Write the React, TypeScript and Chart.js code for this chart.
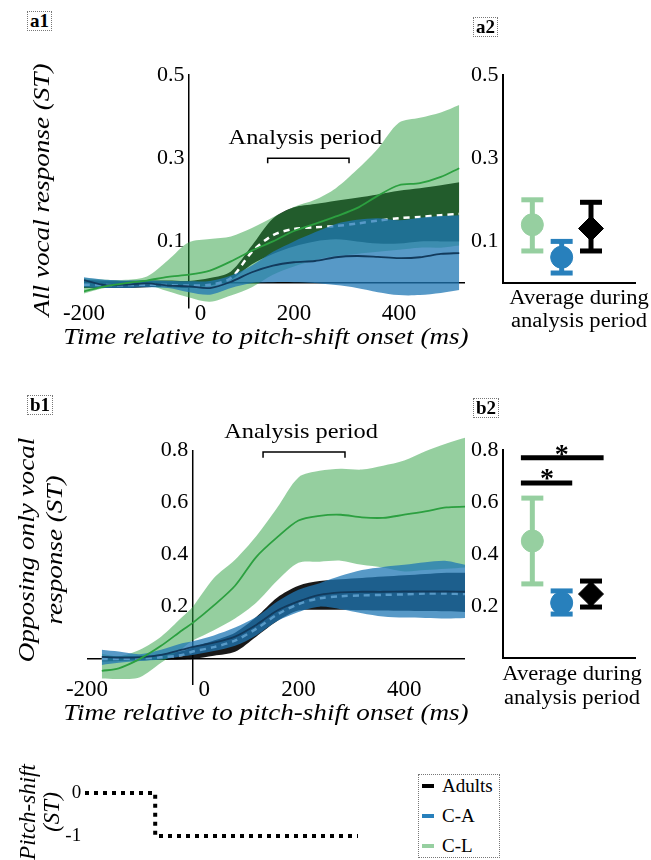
import React, { useEffect, useRef } from 'react';
import { Chart, registerables } from 'chart.js';

Chart.register(...registerables);

const SERIF = '"Liberation Serif", "Times New Roman", Times, serif';
Chart.defaults.font.family = SERIF;
Chart.defaults.color = '#000';

// ---------------- time axes (ms) ----------------
const timeA = [-200, -160, -120, -80, -40, 0, 40, 80, 120, 160, 200, 240, 280, 320, 360, 400, 440, 480, 515];
const timeB = [-172, -140, -100, -60, -20, 0, 40, 80, 120, 160, 200, 240, 280, 320, 360, 400, 440, 480, 515];
const timeTicks = [-200, 0, 200, 400];

// ---------------- a1: all vocal responses (ST) ----------------
const a1ClLo = [-0.025, -0.012, -0.006, -0.004, -0.02, -0.035, -0.045, -0.03, -0.01, 0.02, 0.04, 0.055, 0.065, 0.07, 0.075, 0.08, 0.085, 0.085, 0.09];
const a1ClMean = [-0.02, -0.008, 0.0, 0.006, 0.015, 0.02, 0.03, 0.052, 0.078, 0.1, 0.125, 0.142, 0.16, 0.18, 0.21, 0.235, 0.24, 0.255, 0.276];
const a1ClHi = [0.012, 0.008, 0.008, 0.016, 0.055, 0.098, 0.106, 0.112, 0.132, 0.158, 0.183, 0.2, 0.228, 0.272, 0.323, 0.385, 0.397, 0.41, 0.428];
const a1AdLo = [-0.012, -0.012, -0.012, -0.01, -0.01, -0.012, -0.006, 0.008, 0.045, 0.07, 0.088, 0.1, 0.105, 0.1, 0.095, 0.095, 0.1, 0.1, 0.1];
const a1AdMean = [-0.004, -0.005, -0.005, -0.004, -0.005, -0.006, -0.004, 0.012, 0.075, 0.115, 0.13, 0.134, 0.137, 0.143, 0.15, 0.156, 0.159, 0.163, 0.166];
const a1AdHi = [0.008, 0.006, 0.005, 0.006, 0.006, 0.005, 0.012, 0.028, 0.09, 0.155, 0.182, 0.19, 0.198, 0.205, 0.213, 0.222, 0.228, 0.235, 0.242];
const a1CaLo = [-0.01, -0.012, -0.012, -0.01, -0.012, -0.022, -0.028, -0.012, 0.0, 0.002, 0.002, 0.0, -0.005, -0.012, -0.022, -0.029, -0.029, -0.024, -0.017];
const a1CaMean = [0.007, -0.005, -0.004, -0.001, -0.006, -0.008, -0.012, 0.003, 0.026, 0.042, 0.05, 0.053, 0.062, 0.065, 0.063, 0.06, 0.062, 0.07, 0.072];
const a1CaHi = [0.014, 0.008, 0.006, 0.006, 0.005, 0.004, 0.005, 0.018, 0.042, 0.075, 0.1, 0.122, 0.142, 0.152, 0.156, 0.151, 0.157, 0.161, 0.163];
const a1YTicks = [0.1, 0.3, 0.5];
const a1Period = [150, 305];

// ---------------- b1: opposing only vocal responses (ST) ----------------
const b1ClLo = [-0.075, -0.077, -0.07, -0.015, 0.04, 0.07, 0.11, 0.155, 0.215, 0.3, 0.368, 0.372, 0.376, 0.36, 0.35, 0.335, 0.34, 0.345, 0.35];
const b1ClMean = [-0.046, -0.036, 0.0, 0.05, 0.11, 0.138, 0.205, 0.28, 0.39, 0.466, 0.53, 0.548, 0.552, 0.542, 0.54, 0.552, 0.565, 0.58, 0.583];
const b1ClHi = [0.02, 0.01, 0.035, 0.085, 0.16, 0.2, 0.31, 0.38, 0.47, 0.58, 0.695, 0.72, 0.728, 0.725, 0.74, 0.76, 0.795, 0.825, 0.847];
const b1AdLo = [-0.01, -0.008, -0.005, -0.004, -0.002, 0.0, 0.012, 0.027, 0.085, 0.145, 0.185, 0.188, 0.188, 0.186, 0.185, 0.184, 0.183, 0.182, 0.18];
const b1AdMean = [0.0, 0.0, 0.002, 0.006, 0.015, 0.028, 0.045, 0.07, 0.115, 0.17, 0.21, 0.232, 0.24, 0.243, 0.245, 0.247, 0.25, 0.25, 0.248];
const b1AdHi = [0.01, 0.01, 0.012, 0.018, 0.03, 0.045, 0.07, 0.1, 0.16, 0.235, 0.28, 0.298, 0.305, 0.31, 0.315, 0.32, 0.325, 0.33, 0.33];
const b1CaLo = [-0.023, -0.015, -0.008, -0.002, 0.01, 0.015, 0.03, 0.05, 0.09, 0.145, 0.18, 0.2, 0.19, 0.175, 0.162, 0.158, 0.157, 0.155, 0.157];
const b1CaMean = [0.008, 0.005, 0.006, 0.015, 0.035, 0.046, 0.062, 0.085, 0.13, 0.185, 0.22, 0.245, 0.255, 0.257, 0.257, 0.258, 0.258, 0.258, 0.257];
const b1CaHi = [0.035, 0.028, 0.018, 0.035, 0.06, 0.068, 0.09, 0.12, 0.16, 0.22, 0.265, 0.29, 0.318, 0.34, 0.352, 0.36, 0.37, 0.375, 0.36];
const b1YTicks = [0.2, 0.4, 0.6, 0.8];
const b1AxisTop = 0.8;
const b1Period = [133, 288];

// ---------------- a2 / b2: averages during analysis period ----------------
const groupNames = ['C-L', 'C-A', 'Adults'];
const groupX = [1, 2, 3];
const a2Mean = [0.14, 0.062, 0.131];
const a2Lo = [0.077, 0.024, 0.077];
const a2Hi = [0.2, 0.1, 0.194];
const b2Mean = [0.45, 0.212, 0.246];
const b2Lo = [0.285, 0.169, 0.196];
const b2Hi = [0.615, 0.258, 0.296];
const sigFrom = [0.61, 0.61];
const sigTo = [3.43, 2.36];
const sigY = [0.77, 0.673];
const sigStarX = [2.0, 1.5];
const sigStarY = [0.798, 0.704];

// ---------------- pitch-shift stimulus ----------------
const shiftTimes = [-135, 0, 0, 390];
const shiftValues = [0, 0, -1, -1];
const shiftTicks = [-1, 0];

// ---------------- legend ----------------
const legendNames = ['Adults', 'C-A', 'C-L'];

// ---------------- colours ----------------
const NONE = 'rgba(0,0,0,0)';
const GREEN_BAND = 'rgba(44,160,64,0.5)';
const GREEN_LINE = 'rgb(44,160,64)';
const BLUE_BAND = 'rgba(31,119,180,0.75)';
const BLUE_LINE = 'rgb(18,58,92)';
const BLACK_BAND = 'rgba(0,0,0,0.9)';
const MARK_GREEN = 'rgb(150,207,160)';
const MARK_BLUE = 'rgb(40,128,188)';
const MARK_BLACK = '#000000';
const groupColors = [MARK_GREEN, MARK_BLUE, MARK_BLACK];
const groupShapes = ['circle', 'circle', 'rectRot'];
const legendColors = [MARK_BLACK, MARK_BLUE, MARK_GREEN];

const pts = (xs: number[], ys: number[]) => xs.map((x, i) => ({ x, y: ys[i] }));
const TENSION = 0.3;

const edge = (xs: number[], ys: number[], order: number) => ({
  data: pts(xs, ys), borderColor: NONE, borderWidth: 0, pointRadius: 0, fill: false, tension: TENSION, order,
});
const band = (xs: number[], ys: number[], target: number, color: string, order: number) => ({
  data: pts(xs, ys), borderColor: NONE, borderWidth: 0, pointRadius: 0, fill: target, backgroundColor: color,
  tension: TENSION, order,
});
const meanLine = (xs: number[], ys: number[], color: string, width: number, order: number, dash: number[] = []) => ({
  data: pts(xs, ys), borderColor: color, borderWidth: width, borderDash: dash, pointRadius: 0, fill: false,
  tension: TENSION, order,
});

function periodLabel(period: number[], py: number, gap: number) {
  return {
    id: 'periodLabel',
    afterDatasetsDraw(chart: any) {
      const { ctx, scales } = chart;
      const x = scales.x.getPixelForValue((period[0] + period[1]) / 2) - 3;
      const y = scales.y.getPixelForValue(py) - gap;
      ctx.save();
      ctx.translate(x, y);
      ctx.scale(1.16, 1);
      ctx.font = `21px ${SERIF}`;
      ctx.fillStyle = '#000';
      ctx.textAlign = 'center';
      ctx.textBaseline = 'middle';
      ctx.fillText('Analysis period', 0, 0);
      ctx.restore();
    },
  };
}

function seriesConfig(o: any) {
  const datasets: any[] = [
    edge(o.t, o.adLo, 20),
    band(o.t, o.adHi, 0, BLACK_BAND, 19),
    edge(o.t, o.clLo, 20),
    band(o.t, o.clHi, 2, GREEN_BAND, 18),
    meanLine(o.t, o.adMean, '#ffffff', 2.5, 17, [6, 5]),
    edge(o.t, o.caLo, 20),
    band(o.t, o.caHi, 5, BLUE_BAND, 16),
    meanLine(o.t, o.caMean, BLUE_LINE, 1.8, 15),
    meanLine(o.t, o.clMean, GREEN_LINE, 1.8, 14),
    {
      data: [
        { x: o.period[0], y: o.periodTickY }, { x: o.period[0], y: o.periodY },
        { x: o.period[1], y: o.periodY }, { x: o.period[1], y: o.periodTickY },
      ],
      borderColor: '#000', borderWidth: 1.5, pointRadius: 0, tension: 0, fill: false, order: 1,
    },
  ];
  if (o.axisTop !== undefined) {
    // vertical axis at t = 0 that stops at the top tick
    datasets.push({
      data: [{ x: 0, y: o.yMin }, { x: 0, y: o.axisTop }],
      borderColor: '#000', borderWidth: 1.5, pointRadius: 0, tension: 0, fill: false, order: 30,
    });
  }
  return {
    type: 'line',
    data: { datasets },
    options: {
      responsive: false, animation: false, events: [],
      layout: { padding: o.padding },
      plugins: { legend: { display: false }, tooltip: { enabled: false } },
      scales: {
        x: {
          type: 'linear', min: o.xMin, max: o.xMax, position: { y: o.yMin },
          afterFit: (s: any) => { s.height = 0; },
          afterBuildTicks: (s: any) => { s.ticks = timeTicks.map((v) => ({ value: v })); },
          grid: { display: false }, border: { display: false },
          ticks: {
            font: { size: 23, lineHeight: 1 }, padding: o.xLabelPad, maxRotation: 0, minRotation: 0, autoSkip: false,
            callback: (v: number) => (v === 0 ? '\u20030' : String(v)),
          },
        },
        y: {
          type: 'linear', min: o.yMin, max: o.yMax, position: { x: 0 },
          afterFit: (s: any) => { s.width = 0; },
          afterBuildTicks: (s: any) => { s.ticks = [0, ...o.yTicks].map((v: number) => ({ value: v })); },
          grid: { drawTicks: false, color: (c: any) => (c.tick && c.tick.value === 0 ? '#000' : NONE), lineWidth: 1.5 },
          border: { display: o.axisTop === undefined, color: '#000', width: 1.5 },
          ticks: {
            font: { size: 22, lineHeight: 1 }, padding: 0,
            callback: (v: number) => (v === 0 ? '' : v.toFixed(1) + '\u2009'),
          },
        },
      },
    },
    plugins: [periodLabel(o.period, o.periodY, 20)],
  };
}

const starPlugin = {
  id: 'stars',
  afterDatasetsDraw(chart: any) {
    const { ctx, scales } = chart;
    ctx.save();
    ctx.font = `bold 28px ${SERIF}`;
    ctx.fillStyle = '#000';
    ctx.textAlign = 'center';
    ctx.textBaseline = 'alphabetic';
    const m = ctx.measureText('*');
    const off = (m.actualBoundingBoxAscent - m.actualBoundingBoxDescent) / 2;
    sigStarX.forEach((sx, i) => {
      ctx.fillText('*', scales.x.getPixelForValue(sx), scales.y.getPixelForValue(sigStarY[i]) + off);
    });
    ctx.restore();
  },
};

function summaryConfig(o: any) {
  const datasets: any[] = [];
  groupX.forEach((gx, i) => {
    datasets.push({
      label: groupNames[i] + ' range',
      data: [{ x: gx, y: o.lo[i] }, { x: gx, y: o.hi[i] }],
      borderColor: groupColors[i], borderWidth: 5, pointStyle: 'line', pointRadius: 11,
      pointBorderWidth: 5, pointBorderColor: groupColors[i], pointBackgroundColor: groupColors[i],
      tension: 0, fill: false, order: 5, clip: false,
    });
    datasets.push({
      label: groupNames[i],
      data: [{ x: gx, y: o.mean[i] }], showLine: false, pointStyle: groupShapes[i],
      pointRadius: groupShapes[i] === 'rectRot' ? 12.5 : 11,
      pointBackgroundColor: groupColors[i], pointBorderColor: groupColors[i], pointBorderWidth: 1,
      order: 2, clip: false,
    });
  });
  if (o.sig) {
    sigFrom.forEach((f, i) => {
      datasets.push({
        data: [{ x: f, y: sigY[i] }, { x: sigTo[i], y: sigY[i] }],
        borderColor: '#000', borderWidth: 5, pointRadius: 0, tension: 0, fill: false, order: 1, clip: false,
      });
    });
  }
  return {
    type: 'line',
    data: { datasets },
    options: {
      responsive: false, animation: false, events: [],
      layout: { padding: o.padding },
      plugins: { legend: { display: false }, tooltip: { enabled: false } },
      scales: {
        x: {
          type: 'linear', min: 0, max: 4.5, position: 'bottom',
          afterFit: (s: any) => { s.height = 0; },
          ticks: { display: false }, grid: { display: false },
          border: { display: true, color: '#000', width: 2 },
        },
        y: {
          type: 'linear', min: 0, max: o.yMax, position: { x: 0 },
          afterFit: (s: any) => { s.width = 0; },
          afterBuildTicks: (s: any) => { s.ticks = o.yTicks.map((v: number) => ({ value: v })); },
          grid: { display: false, drawTicks: false },
          border: { display: true, color: '#000', width: 2 },
          ticks: { font: { size: 22, lineHeight: 1 }, padding: 0, callback: (v: number) => v.toFixed(1) + '\u2009' },
        },
      },
    },
    plugins: o.sig ? [starPlugin] : [],
  };
}

const makeA1 = () => seriesConfig({
  t: timeA, adLo: a1AdLo, adMean: a1AdMean, adHi: a1AdHi, caLo: a1CaLo, caMean: a1CaMean, caHi: a1CaHi,
  clLo: a1ClLo, clMean: a1ClMean, clHi: a1ClHi,
  xMin: -200, xMax: 526, yMin: -0.06, yMax: 0.5, yTicks: a1YTicks,
  padding: { left: 44, top: 25, right: 15, bottom: 32 }, xLabelPad: -14,
  period: a1Period, periodY: 0.3, periodTickY: 0.288,
});

const makeB1 = () => seriesConfig({
  t: timeB, adLo: b1AdLo, adMean: b1AdMean, adHi: b1AdHi, caLo: b1CaLo, caMean: b1CaMean, caHi: b1CaHi,
  clLo: b1ClLo, clMean: b1ClMean, clHi: b1ClHi,
  xMin: -200, xMax: 515, yMin: -0.1, yMax: 0.86, yTicks: b1YTicks, axisTop: b1AxisTop,
  padding: { left: 47, top: 24.3, right: 15, bottom: 25 }, xLabelPad: -15,
  period: b1Period, periodY: 0.792, periodTickY: 0.77,
});

const makeA2 = () => summaryConfig({
  mean: a2Mean, lo: a2Lo, hi: a2Hi, yMax: 0.5, yTicks: a1YTicks,
  padding: { left: 33, top: 25, right: 1, bottom: 17 }, sig: false,
});

const makeB2 = () => summaryConfig({
  mean: b2Mean, lo: b2Lo, hi: b2Hi, yMax: 0.8, yTicks: b1YTicks,
  padding: { left: 33, top: 30, right: 1, bottom: 22 }, sig: true,
});

const makeShift = () => ({
  type: 'line',
  data: {
    datasets: [{
      data: pts(shiftTimes, shiftValues), borderColor: '#000', borderWidth: 4, borderDash: [4, 5],
      pointRadius: 0, tension: 0, fill: false, clip: false,
    }],
  },
  options: {
    responsive: false, animation: false, events: [],
    layout: { padding: { left: 45, top: 17.25, right: 22, bottom: 13.25 } },
    plugins: { legend: { display: false }, tooltip: { enabled: false } },
    scales: {
      x: { type: 'linear', min: -135, max: 390, display: false },
      y: {
        type: 'linear', min: -1.25, max: 0.25, position: { x: -135 },
        afterFit: (s: any) => { s.width = 0; },
        afterBuildTicks: (s: any) => { s.ticks = shiftTicks.map((v) => ({ value: v })); },
        grid: { display: false, drawTicks: false }, border: { display: false },
        ticks: { font: { size: 19, lineHeight: 1 }, padding: 0, callback: (v: number) => String(v) + '\u2009' },
      },
    },
  },
});

function ChartBox({ left, top, width, height, make }: any) {
  const ref = useRef<HTMLCanvasElement | null>(null);
  useEffect(() => {
    if (!ref.current) return;
    const chart = new Chart(ref.current, make());
    return () => chart.destroy();
  }, [make]);
  return (
    <canvas
      ref={ref}
      width={width}
      height={height}
      style={{ position: 'absolute', left, top, width, height, display: 'block' }}
    />
  );
}

function Title({ cx, cy, lines, size, sx = 1, lh, rotate = false, italic = true }: any) {
  return (
    <div
      style={{
        position: 'absolute', left: cx, top: cy,
        transform: `translate(-50%,-50%)${rotate ? ' rotate(-90deg)' : ''} scaleX(${sx})`,
        fontFamily: SERIF, fontStyle: italic ? 'italic' : 'normal', fontSize: size,
        lineHeight: `${lh}px`, whiteSpace: 'nowrap', textAlign: 'center', color: '#000',
      }}
    >
      {lines.map((l: string) => <div key={l}>{l}</div>)}
    </div>
  );
}

function PanelLabel({ left, top, text }: any) {
  return (
    <div
      style={{
        position: 'absolute', left, top, height: 20, padding: '0 2px', boxSizing: 'border-box',
        border: '1px dotted #777', fontFamily: SERIF, fontWeight: 'bold', fontSize: 19,
        lineHeight: '18px', color: '#000',
      }}
    >
      {text}
    </div>
  );
}

export default function App() {
  return (
    <div
      style={{
        position: 'absolute', left: 0, top: 0, width: 651, height: 860, overflow: 'hidden',
        background: '#fff', fontFamily: SERIF,
      }}
    >
      <ChartBox left={40} top={50} width={440} height={290} make={makeA1} />
      <ChartBox left={470} top={50} width={181} height={250} make={makeA2} />
      <ChartBox left={40} top={410} width={440} height={300} make={makeB1} />
      <ChartBox left={470} top={420} width={181} height={260} make={makeB2} />
      <ChartBox left={40} top={765} width={340} height={95} make={makeShift} />

      <PanelLabel left={27} top={11} text="a1" />
      <PanelLabel left={473} top={17} text="a2" />
      <PanelLabel left={27} top={395} text="b1" />
      <PanelLabel left={473} top={398} text="b2" />

      <Title cx={42} cy={190} lines={['All vocal response (ST)']} size={23} sx={1.18} lh={26} rotate />
      <Title cx={266} cy={337} lines={['Time relative to pitch-shift onset (ms)']} size={23} sx={1.18} lh={26} />
      <Title cx={41} cy={550} lines={['Opposing only vocal', 'response (ST)']} size={23} sx={1.18} lh={28} rotate />
      <Title cx={266} cy={713} lines={['Time relative to pitch-shift onset (ms)']} size={23} sx={1.18} lh={26} />
      <Title cx={579} cy={309} lines={['Average during', 'analysis period']} size={20} sx={1.13} lh={23} italic={false} />
      <Title cx={572} cy={685} lines={['Average during', 'analysis period']} size={20} sx={1.13} lh={24} italic={false} />
      <Title cx={40} cy={812} lines={['Pitch-shift', '(ST)']} size={23} lh={24} rotate />

      <div
        style={{
          position: 'absolute', left: 418, top: 774, width: 82, height: 84, boxSizing: 'border-box',
          border: '1px dotted #777', background: '#fff',
        }}
      >
        {legendNames.map((n, i) => (
          <div key={n} style={{ position: 'absolute', left: 0, top: -4 + i * 30, height: 30, width: 80 }}>
            <div style={{ position: 'absolute', left: 3, top: 13, width: 12, height: 4, background: legendColors[i] }} />
            <div
              style={{
                position: 'absolute', left: 23, top: 0, lineHeight: '30px', fontFamily: SERIF,
                fontSize: 19, color: '#000', whiteSpace: 'nowrap',
              }}
            >
              {n}
            </div>
          </div>
        ))}
      </div>
    </div>
  );
}
